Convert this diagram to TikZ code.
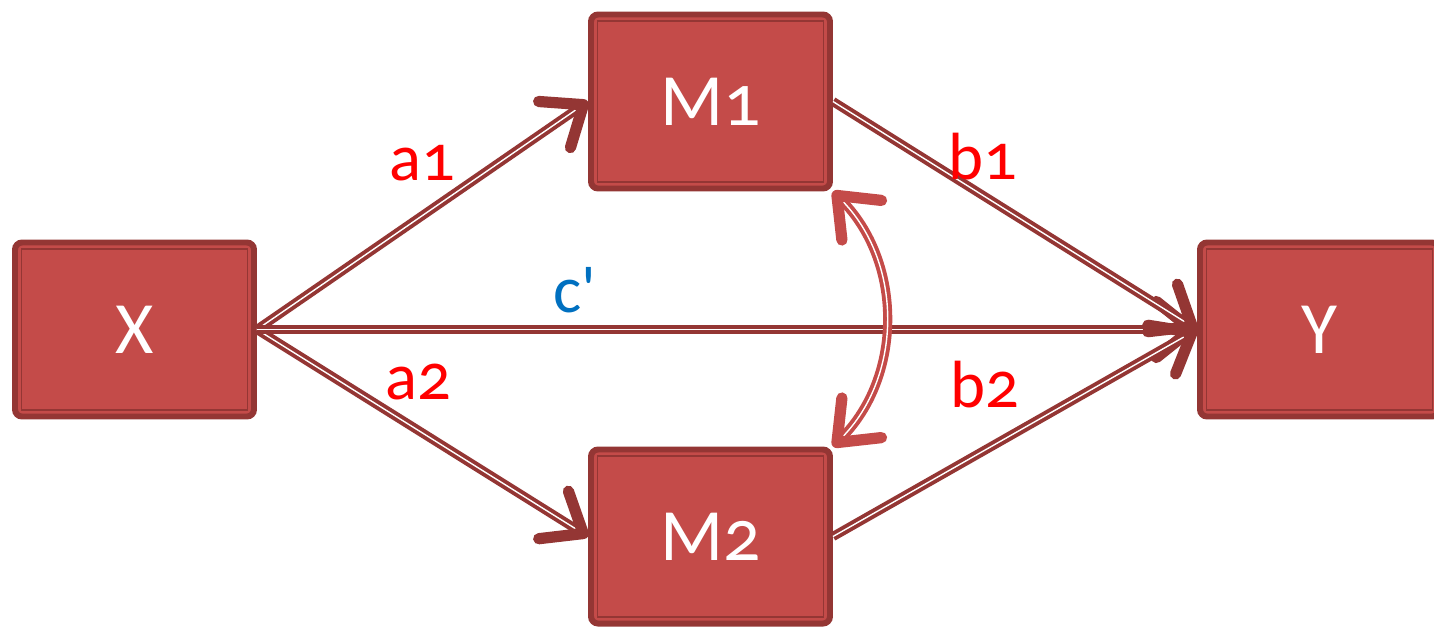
\documentclass[tikz,border=0pt]{standalone}
\usepackage{fontspec}
\setmainfont{Carlito}[Numbers=OldStyle]
\newfontfamily\labelfont{Carlito}[Numbers=OldStyle]
\usepackage{xcolor}
\usepackage{tikz}
\usetikzlibrary{arrows.meta,positioning}
\definecolor{BrickRed}{HTML}{C44B49}
\definecolor{DeepBrick}{HTML}{943634}
\definecolor{PathBlue}{HTML}{0070C0}
\definecolor{CoefRed}{HTML}{FF0000}
\begin{document}
\begin{tikzpicture}[
  box/.style={draw=DeepBrick, line width=1.7pt, fill=BrickRed, rounded corners=2pt,
              minimum width=23.9mm, minimum height=17.4mm, text=white,
              font=\fontsize{21}{24}\selectfont},
  boxframe/.style={draw=DeepBrick, line width=0.45pt},
  coef/.style={text=CoefRed, font=\labelfont\fontsize{19}{22}\selectfont},
  link/.style={draw=DeepBrick, line width=1.1pt, double=white, double distance=0.4pt,
               -{Straight Barb[length=3.5mm, width=5.6mm, line width=3.2pt, round]}},
  corr/.style={draw=BrickRed, line width=1.1pt, double=white, double distance=0.4pt,
               {Straight Barb[length=3.5mm, width=5.6mm, line width=3.2pt, round]}-{Straight Barb[length=3.5mm, width=5.6mm, line width=3.2pt, round]}}
]
\useasboundingbox (0,0) rectangle (14.34,6.28);
\node[box] (X) at (1.345,2.985) {X};
\node[box] (M1) at (7.105,5.265) {M1};
\node[box] (M2) at (7.105,0.915) {M2};
\node[box] (Y) at (13.195,2.985) {Y};
\foreach \b in {X,M1,M2,Y}
  \draw[boxframe] ([xshift=0.95mm,yshift=0.95mm]\b.south west) rectangle ([xshift=-0.95mm,yshift=-0.95mm]\b.north east);
\draw[link] (X.east) -- (M1.west);
\draw[link] (X.east) -- (M2.west);
\draw[link] (X.east) -- (Y.west);
\draw[link] (M1.east) -- (Y.west);
\draw[link] (M2.east) -- (Y.west);
\draw[corr] (M1.south east) to[bend left=45] (M2.north east);
\node[coef] (a1) at (4.22,4.65) {a1};
\node[coef] (b1) at (9.83,4.71) {b1};
\node[coef] (a2) at (4.18,2.46) {a2};
\node[coef] (b2) at (9.85,2.43) {b2};
\node[coef, text=PathBlue] (c) at (5.75,3.38) {c'};
\end{tikzpicture}
\end{document}
